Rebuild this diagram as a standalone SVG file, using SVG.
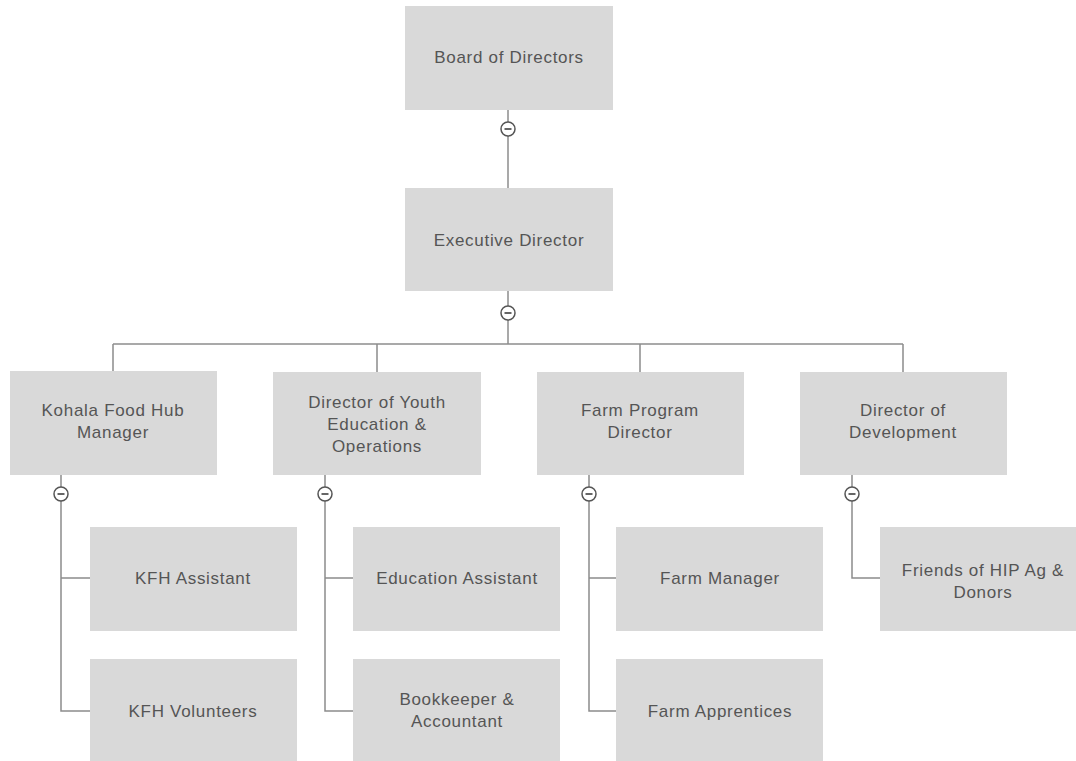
<svg xmlns="http://www.w3.org/2000/svg" width="1076" height="761" viewBox="0 0 1076 761">
<style>
.box{fill:#d9d9d9;stroke:none}
.t{font-family:"Liberation Sans",Arial,sans-serif;font-size:17px;fill:#555;text-anchor:middle;letter-spacing:0.7px}
.ln{stroke:#8c8c8c;stroke-width:1.5;fill:none}
.tg circle{fill:#fff;stroke:#555;stroke-width:1.5}
.tg line{stroke:#555;stroke-width:1.8}
</style>
<defs>
<g id="toggle" class="tg"><circle cx="0" cy="0" r="7"/><line x1="-3.5" y1="0" x2="3.5" y2="0"/></g>
</defs>
<rect width="1076" height="761" fill="#fff"/>
<g id="connectors">
<path class="ln" d="M508 110V190"/>
<path class="ln" d="M508 291V344"/>
<path class="ln" d="M113 344H903"/>
<path class="ln" d="M113 344V372M377 344V372M640 344V372M903 344V372"/>
<path class="ln" d="M61 475V711H90M61 578H90"/>
<path class="ln" d="M325 475V711H353M325 578H353"/>
<path class="ln" d="M589 475V711H616M589 578H616"/>
<path class="ln" d="M852 475V578H880"/>
</g>
<g id="board"><rect class="box" x="405" y="6" width="208" height="104"/><text class="t" x="509" y="63">Board of Directors</text></g>
<g id="executive"><rect class="box" x="405" y="188" width="208" height="103"/><text class="t" x="509" y="246">Executive Director</text></g>
<g id="kohala"><rect class="box" x="10" y="371" width="207" height="104"/><text class="t" x="113" y="416">Kohala Food Hub</text><text class="t" x="113" y="438">Manager</text></g>
<g id="youth"><rect class="box" x="273" y="372" width="208" height="103"/><text class="t" x="377" y="408">Director of Youth</text><text class="t" x="377" y="430">Education &amp;</text><text class="t" x="377" y="452">Operations</text></g>
<g id="farmdir"><rect class="box" x="537" y="372" width="207" height="103"/><text class="t" x="640" y="416">Farm Program</text><text class="t" x="640" y="438">Director</text></g>
<g id="development"><rect class="box" x="800" y="372" width="207" height="103"/><text class="t" x="903" y="416">Director of</text><text class="t" x="903" y="438">Development</text></g>
<g id="kfhassistant"><rect class="box" x="90" y="527" width="207" height="104"/><text class="t" x="193" y="584">KFH Assistant</text></g>
<g id="kfhvolunteers"><rect class="box" x="90" y="659" width="207" height="102"/><text class="t" x="193" y="717">KFH Volunteers</text></g>
<g id="eduassistant"><rect class="box" x="353" y="527" width="207" height="104"/><text class="t" x="457" y="584">Education Assistant</text></g>
<g id="bookkeeper"><rect class="box" x="353" y="659" width="207" height="102"/><text class="t" x="457" y="705">Bookkeeper &amp;</text><text class="t" x="457" y="727">Accountant</text></g>
<g id="farmmanager"><rect class="box" x="616" y="527" width="207" height="104"/><text class="t" x="720" y="584">Farm Manager</text></g>
<g id="apprentices"><rect class="box" x="616" y="659" width="207" height="102"/><text class="t" x="720" y="717">Farm Apprentices</text></g>
<g id="friends"><rect class="box" x="880" y="527" width="207" height="104"/><text class="t" x="983" y="576">Friends of HIP Ag &amp;</text><text class="t" x="983" y="598">Donors</text></g>
<g id="toggles">
<use href="#toggle" x="508" y="129"/>
<use href="#toggle" x="508" y="313"/>
<use href="#toggle" x="61" y="494"/>
<use href="#toggle" x="325" y="494"/>
<use href="#toggle" x="589" y="494"/>
<use href="#toggle" x="852" y="494"/>
</g>
</svg>
